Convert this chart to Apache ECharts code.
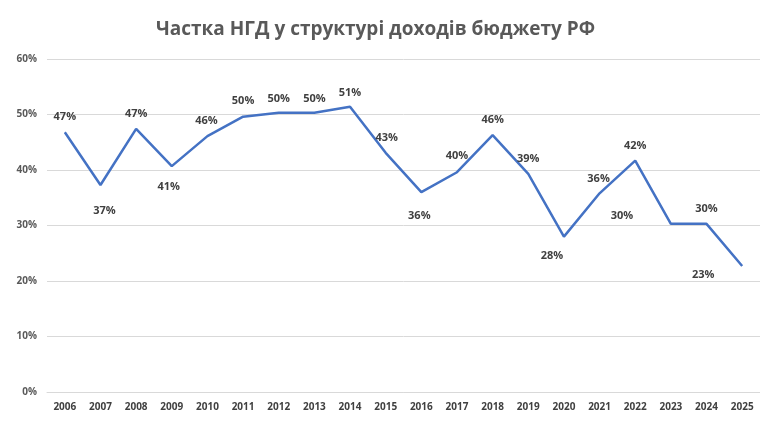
<!DOCTYPE html>
<html>
<head>
<meta charset="utf-8">
<script src="https://cdn.jsdelivr.net/npm/echarts@6/dist/echarts.min.js"></script>
<style>
  html, body { margin: 0; padding: 0; background: #fff; }
  #chart { width: 760px; height: 430px; }
</style>
</head>
<body>
<div id="chart"></div>
<script>
// years on the x axis
const years = ['2006', '2007', '2008', '2009', '2010', '2011', '2012', '2013', '2014', '2015',
  '2016', '2017', '2018', '2019', '2020', '2021', '2022', '2023', '2024', '2025'];

// share of oil & gas revenue, %
const shareNGD = [46.8, 37.3, 47.4, 40.7, 46.1, 49.6, 50.3, 50.3, 51.4, 43.1,
  36.0, 39.6, 46.3, 39.3, 28.0, 35.8, 41.7, 30.3, 30.3, 22.7];

// label nudges (style only), relative to each point
const labelShift = [
  [0, -15], [4, 26], [0, -15], [-3, 21], [-1, -15], [0, -16], [0, -14], [0, -14], [0, -14], [1, -15],
  [-2, 24], [0, -16], [0, -15], [0, -15], [-12, 19], [-1, -14], [0, -15], [-49, -8], [0, -15], [-39, 9]
];

const chart = echarts.init(document.getElementById('chart'));

const option = {
  animation: false,
  title: {
    text: 'Частка НГД у структурі доходів бюджету РФ',
    left: 151,
    top: 15,
    textStyle: {
      fontFamily: 'Open Sans',
      fontSize: 19,
      fontWeight: 'bold',
      color: '#595959'
    }
  },
  grid: { left: 47, right: 0, top: 59, bottom: 38 },
  xAxis: {
    type: 'category',
    data: years,
    axisLine: { show: true, lineStyle: { color: '#d9d9d9' } },
    axisTick: { show: false },
    axisLabel: {
      margin: 10,
      fontFamily: 'Open Sans',
      fontSize: 10,
      fontWeight: 'bold',
      color: '#404040'
    }
  },
  yAxis: {
    type: 'value',
    min: 0,
    max: 60,
    interval: 10,
    axisLine: { show: false },
    axisTick: { show: false },
    splitLine: { lineStyle: { color: '#d9d9d9', width: 1 } },
    axisLabel: {
      margin: 10,
      formatter: '{value}%',
      fontFamily: 'Open Sans',
      fontSize: 10,
      fontWeight: 'bold',
      color: '#595959'
    }
  },
  series: [
    {
      type: 'line',
      data: shareNGD.map((v, i) => ({
        value: v,
        label: { offset: labelShift[i] }
      })),
      symbol: 'circle',
      symbolSize: 0.1,
      itemStyle: { color: '#4472C4' },
      lineStyle: { color: '#4472C4', width: 2.5 },
      label: {
        show: true,
        position: 'inside',
        formatter: p => Math.round(p.value) + '%',
        fontFamily: 'Open Sans',
        fontSize: 11,
        fontWeight: 'bold',
        color: '#404040'
      }
    }
  ]
};

chart.setOption(option);
</script>
</body>
</html>
